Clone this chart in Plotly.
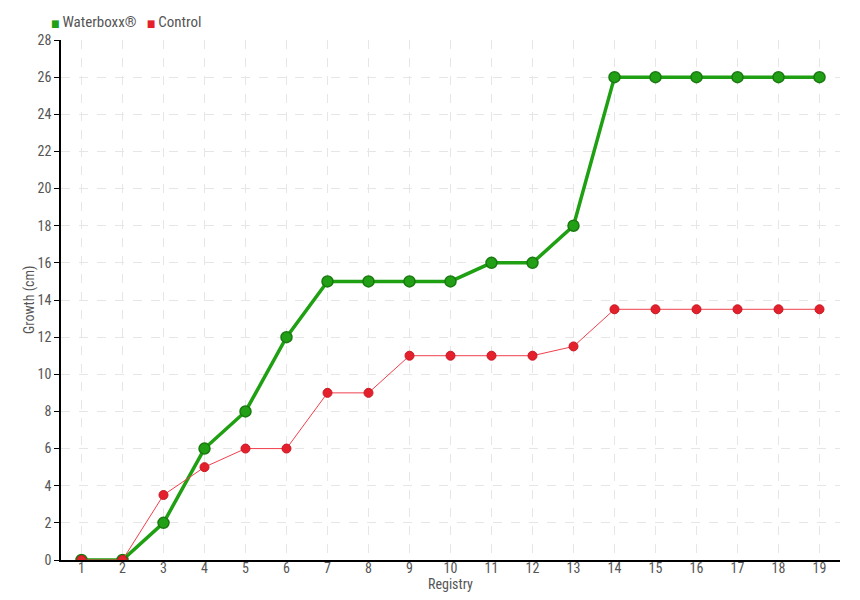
import plotly.graph_objects as go

registry = list(range(1, 20))
waterboxx = [0, 0, 2, 6, 8, 12, 15, 15, 15, 15, 16, 16, 18, 26, 26, 26, 26, 26, 26]
control = [0, 0, 3.5, 5, 6, 6, 9, 9, 11, 11, 11, 11, 11.5, 13.5, 13.5, 13.5, 13.5, 13.5, 13.5]
y_ticks = list(range(0, 29, 2))

FONT = "Roboto Condensed, Liberation Sans Narrow, DejaVu Sans Condensed, sans-serif"
GRAY = "#555555"
GREEN = "#21a016"
RED = "#e3202c"

fig = go.Figure()
fig.add_trace(go.Scatter(
    x=registry, y=waterboxx, name="Waterboxx®", mode="lines+markers",
    line=dict(color="#1fa012", width=3.5),
    marker=dict(size=11, color=GREEN, line=dict(color="#1a7a10", width=1.5)),
    showlegend=False,
))
fig.add_trace(go.Scatter(
    x=registry, y=control, name="Control", mode="lines+markers",
    line=dict(color="#f0404c", width=1),
    marker=dict(size=9, color=RED, line=dict(color="#c81822", width=1)),
    showlegend=False,
))

# legend (as text)
fig.add_annotation(
    xref="paper", yref="paper", x=0, y=1.0, xshift=-12, yshift=18,
    xanchor="left", yanchor="middle", showarrow=False,
    text=(f'<span style="color:{GREEN};font-size:10px">■</span>\u2009Waterboxx®\u00a0\u00a0\u00a0'
          f'<span style="color:{RED};font-size:10px">■</span>\u2009Control'),
    font=dict(size=15, color=GRAY, family=FONT),
)
# axis titles
fig.add_annotation(
    xref="paper", yref="paper", x=0.5, y=0, yshift=-24,
    xanchor="center", yanchor="middle", showarrow=False,
    text="Registry", font=dict(size=14, color=GRAY, family=FONT),
)
fig.add_annotation(
    xref="paper", yref="paper", x=0, y=0.5, xshift=-32,
    xanchor="center", yanchor="middle", showarrow=False, textangle=-90,
    text="Growth (cm)", font=dict(size=14, color=GRAY, family=FONT),
)

fig.update_layout(
    width=860, height=600,
    margin=dict(l=53, r=28, t=32, b=48, autoexpand=False),
    paper_bgcolor="white", plot_bgcolor="white",
    font=dict(family=FONT, size=14, color=GRAY),
    showlegend=False,
    xaxis=dict(
        range=[0.5, 19.5], tickmode="array", tickvals=registry,
        ticktext=[str(v) for v in registry],
        showline=True, linecolor="black", linewidth=1.5,
        showgrid=True, gridcolor="#e6e6e6", griddash="dash", gridwidth=1,
        ticks="", ticklabelstandoff=-6,
        zeroline=False, automargin=False,
        tickfont=dict(size=14, color=GRAY),
    ),
    yaxis=dict(
        range=[0, 28], tickmode="array", tickvals=y_ticks,
        showline=True, linecolor="black", linewidth=1.5,
        showgrid=True, gridcolor="#e6e6e6", griddash="dash", gridwidth=1,
        ticks="outside", ticklen=5, tickcolor="black",
        zeroline=False, automargin=False,
        tickfont=dict(size=14, color=GRAY),
    ),
)

fig.write_html("out.html")
